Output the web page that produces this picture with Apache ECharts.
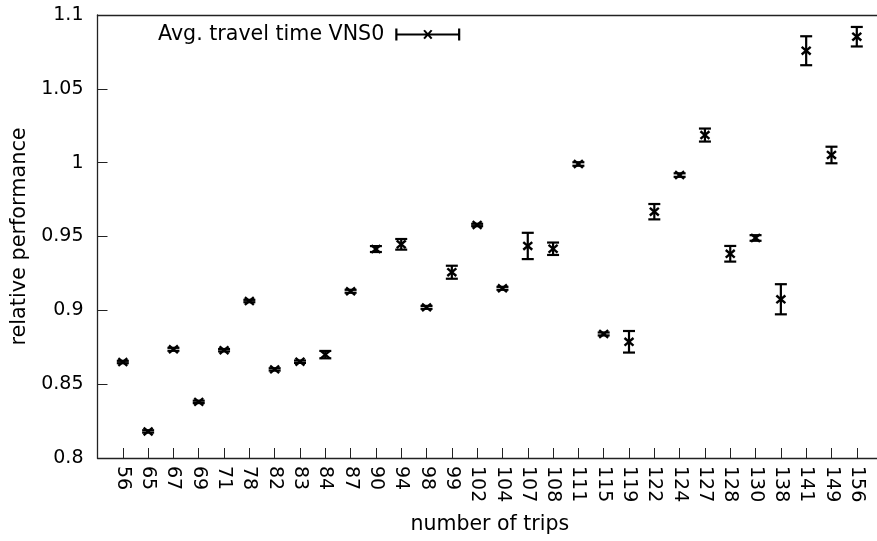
<!DOCTYPE html>
<html>
<head>
<meta charset="utf-8">
<script src="https://cdn.jsdelivr.net/npm/echarts@6/dist/echarts.min.js"></script>
<style>
html,body{margin:0;padding:0;background:#fff;overflow:hidden;width:877px;height:541px;}
#c{width:890px;height:541px;}
</style>
</head>
<body>
<div id="c"></div>
<script>
const categories = ['56','65','67','69','71','78','82','83','84','87','90','94','98','99','102','104','107','108','111','115','119','122','124','127','128','130','138','141','149','156'];
const meanValues = [0.865,0.818,0.8736,0.838,0.873,0.9063,0.860,0.8652,0.870,0.9129,0.9415,0.9447,0.902,0.9258,0.9578,0.9149,0.9436,0.9417,0.9991,0.884,0.8787,0.9668,0.9916,1.0187,0.9383,0.9490,0.9075,1.0758,1.0052,1.0853];
const errorValues = [0.0008,0.0008,0.001,0.0008,0.0008,0.0008,0.0008,0.0008,0.0025,0.001,0.002,0.0036,0.001,0.0044,0.0008,0.001,0.0089,0.0042,0.0012,0.001,0.0073,0.0052,0.0012,0.0044,0.0053,0.0019,0.0102,0.0098,0.0056,0.0066];
const seriesName = 'Avg. travel time VNS0';
const yTicks = {min: 0.8, max: 1.1, step: 0.05};

const data = categories.map((c, i) => [i, meanValues[i], errorValues[i]]);
const FONT = 'DejaVu Sans';
const INK = '#000';
const AXIS = '#222';

const chart = echarts.init(document.getElementById('c'), null, {renderer: 'canvas'});

function renderItem(params, api) {
  const x = api.value(0), m = api.value(1), e = api.value(2);
  const top = api.coord([x, m + e]);
  const bot = api.coord([x, m - e]);
  const c = api.coord([x, m]);
  const cw = 6, mx = 4.5, my = 3.8;
  const st = {stroke: INK, lineWidth: 2.2, fill: null};
  const sm = {stroke: INK, lineWidth: 2.4, fill: null};
  return {
    type: 'group',
    children: [
      {type: 'line', shape: {x1: top[0], y1: top[1], x2: bot[0], y2: bot[1]}, style: st},
      {type: 'line', shape: {x1: top[0] - cw, y1: top[1], x2: top[0] + cw, y2: top[1]}, style: st},
      {type: 'line', shape: {x1: bot[0] - cw, y1: bot[1], x2: bot[0] + cw, y2: bot[1]}, style: st},
      {type: 'line', shape: {x1: c[0] - mx, y1: c[1] - my, x2: c[0] + mx, y2: c[1] + my}, style: sm},
      {type: 'line', shape: {x1: c[0] - mx, y1: c[1] + my, x2: c[0] + mx, y2: c[1] - my}, style: sm}
    ]
  };
}

const legendIcon = 'path://M0,0H2.2V12H0Z M62.8,0H65V12H62.8Z M0,5H65V7H0Z M28,2.3L29.6,1.2L37.2,9.6L35.6,10.7Z M28,9.6L35.6,1.2L37.2,2.3L29.6,10.7Z';

const hiddenLabel = {show: false};

chart.setOption({
  animation: false,
  backgroundColor: '#fff',
  textStyle: {fontFamily: FONT, color: INK},
  grid: {left: 97.5, top: 15, width: 784.6, height: 443, containLabel: false},
  legend: {
    show: true,
    data: [{name: seriesName, icon: legendIcon}],
    left: 158, top: 24, padding: 0,
    align: 'right',
    itemWidth: 65, itemHeight: 12,
    textStyle: {fontFamily: FONT, fontSize: 20.6, color: INK, padding: [0, 6, 0, 0]},
    itemStyle: {color: INK}
  },
  xAxis: [{
    type: 'value', min: -1, max: 30, interval: 1, position: 'bottom',
    name: 'number of trips', nameLocation: 'middle', nameGap: 56,
    nameTextStyle: {fontFamily: FONT, fontSize: 20.5, color: INK},
    axisLine: {show: true, onZero: false, lineStyle: {color: AXIS, width: 1.3}},
    axisTick: {show: true, inside: true, length: 10, lineStyle: {color: AXIS, width: 1}},
    splitLine: {show: false},
    axisLabel: {
      rotate: -90, margin: 8, fontFamily: FONT, fontSize: 19, color: INK,
      showMinLabel: true, showMaxLabel: true,
      formatter: v => (v >= 0 && v < categories.length && Number.isInteger(v)) ? categories[v] : ''
    }
  }, {
    type: 'value', min: -1, max: 30, position: 'top',
    axisLine: {show: true, onZero: false, lineStyle: {color: AXIS, width: 1.3}},
    axisTick: {show: false}, axisLabel: hiddenLabel, splitLine: {show: false}
  }],
  yAxis: {
    type: 'value', min: yTicks.min, max: yTicks.max, interval: yTicks.step,
    name: 'relative performance', nameLocation: 'middle', nameGap: 66, nameRotate: 90,
    nameTextStyle: {fontFamily: FONT, fontSize: 20.8, color: INK},
    axisLine: {show: true, onZero: false, lineStyle: {color: AXIS, width: 1.3}},
    axisTick: {show: true, inside: true, length: 10, lineStyle: {color: AXIS, width: 1}},
    splitLine: {show: false},
    axisLabel: {
      margin: 14, fontFamily: FONT, fontSize: 19, color: INK,
      formatter: v => String(Math.round(v * 1000) / 1000)
    }
  },
  series: [{
    name: seriesName,
    type: 'custom',
    renderItem: renderItem,
    encode: {x: 0, y: 1},
    data: data,
    itemStyle: {color: INK},
    clip: false
  }]
});
</script>
</body>
</html>
